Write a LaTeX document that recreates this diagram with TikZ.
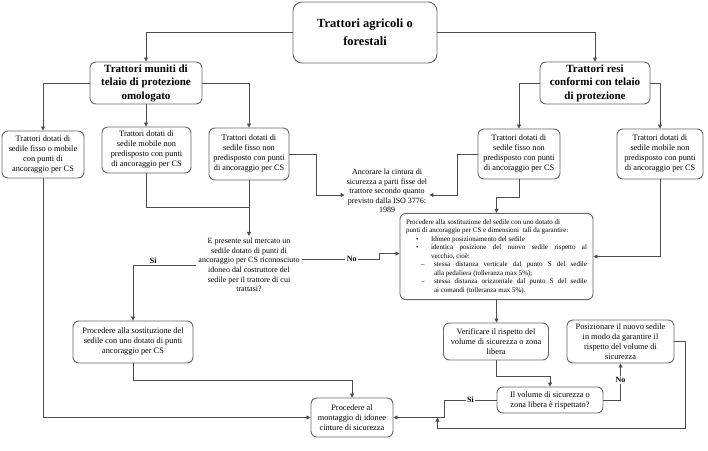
\documentclass[tikz,border=0pt]{standalone}
\usepackage{fontspec}
\setmainfont{Liberation Serif}
\usetikzlibrary{arrows.meta,calc}
\begin{document}
\begin{tikzpicture}[x=1pt,y=-1pt,
 box/.style={draw=black!60, line width=0.9pt, rounded corners=6pt, align=center, inner sep=2pt, font=\fontsize{8.3}{10}\selectfont},
 hbox/.style={box, font=\bfseries\fontsize{11}{13.5}\selectfont},
 conn/.style={draw=black!70, line width=0.8pt},
 arr/.style={conn, -{Triangle[length=4pt,width=4pt]}},
 lab/.style={font=\bfseries\fontsize{8}{9}\selectfont, fill=white, inner sep=1.5pt},
 txt/.style={align=center, inner sep=2pt, font=\fontsize{8}{9.6}\selectfont}]
\useasboundingbox (0,0) rectangle (708,450);
\fill[white] (0,0) rectangle (708,450);

\node[box, rounded corners=9pt, font=\bfseries\fontsize{12.5}{18}\selectfont, minimum width=144pt, minimum height=61pt] (top) at (365,32.5) {Trattori agricoli o\\forestali};
\node[hbox, minimum width=112pt, minimum height=42pt] (LM) at (146,83) {Trattori muniti di\\telaio di protezione\\omologato};
\node[hbox, minimum width=110pt, minimum height=42pt] (RM) at (595,83) {Trattori resi\\conformi con telaio\\di protezione};

\node[box, minimum width=82pt, minimum height=47pt] (A1) at (43,154.5) {Trattori dotati di\\sedile fisso o mobile\\con punti di\\ancoraggio per CS};
\node[box, minimum width=89pt, minimum height=46pt] (A2) at (146.5,150) {Trattori dotati di\\sedile mobile non\\predisposto con punti\\di ancoraggio per CS};
\node[box, minimum width=80pt, minimum height=52pt] (A3) at (249,154) {Trattori dotati di\\sedile fisso non\\predisposto con punti\\di ancoraggio per CS};
\node[box, minimum width=82pt, minimum height=50pt] (B1) at (519,154) {Trattori dotati di\\sedile fisso non\\predisposto con punti\\di ancoraggio per CS};
\node[box, minimum width=86pt, minimum height=50pt] (B2) at (660,154) {Trattori dotati di\\sedile mobile non\\predisposto con punti\\di ancoraggio per CS};

\node[txt] (anc) at (387,191) {Ancorare la cintura di\\sicurezza a parti fisse del\\trattore secondo quanto\\previsto dalla ISO 3776:\\1989};
\node[txt] (D) at (249,265) {E presente sul mercato un\\sedile dotato di punti di\\ancoraggio per CS riconosciuto\\idoneo dal costruttore del\\sedile per il trattore di cui\\trattasi?};

\node[box, align=justify, text width=181pt, inner sep=6pt, minimum height=85pt, font=\fontsize{7}{8.5}\selectfont] (C) at (496.5,256.5) {%
\hyphenpenalty=10000\exhyphenpenalty=10000
\noindent Procedere alla sostituzione del sedile con uno dotato di\\
punti di ancoraggio per CS e dimensioni\ \ tali da garantire:\par
\hangindent=25pt\hangafter=1\noindent\hspace*{10pt}\makebox[15pt][l]{\textbullet}Idoneo posizionamento del sedile\par
\hangindent=25pt\hangafter=1\noindent\hspace*{10pt}\makebox[15pt][l]{\textbullet}identica posizione del nuovo sedile rispetto al\linebreak vecchio, cioè:\par
\hangindent=28pt\hangafter=1\noindent\hspace*{15pt}\makebox[13pt][l]{--}stessa distanza verticale dal punto S del sedile\linebreak alla pedaliera (tolleranza max 5\%);\par
\hangindent=28pt\hangafter=1\noindent\hspace*{15pt}\makebox[13pt][l]{--}stessa distanza orizzontale dal punto S del sedile\linebreak ai comandi (tolleranza max 5\%).\par};

\node[box, minimum width=120pt, minimum height=42pt] (E) at (133,342) {Procedere alla sostituzione del\\sedile con uno dotato di punti\\ancoraggio per CS};
\node[box, minimum width=82pt, minimum height=39pt] (F) at (352,417.5) {Procedere al\\montaggio di idonee\\cinture di sicurezza};
\node[box, minimum width=105pt, minimum height=37pt] (G) at (496,341.5) {Verificare il rispetto del\\volume di sicurezza o zona\\libera};
\node[box, minimum width=106pt, minimum height=26pt] (H) at (550,400) {Il volume di sicurezza o\\zona libera è rispettato?};
\node[box, minimum width=107pt, minimum height=43pt] (I) at (620.5,341.5) {Posizionare il nuovo sedile\\in modo da garantire il\\rispetto del volume di\\sicurezza};

% connectors
\draw[arr] (top.west) -| (LM.north);
\draw[arr] (top.east) -| (RM.north);
\draw[arr] (LM.west) -| (A1.north);
\draw[arr] (LM.south) -- (LM.south |- A2.north);
\draw[arr] (LM.east) -| (A3.north);
\draw[arr] (RM.west) -| (B1.north);
\draw[arr] (RM.east) -| (B2.north);

\draw[arr] (A3.east) -- ++(27,0) |- ($(anc.west)+(0,4)$);
\draw[arr] (B1.west) -- ++(-20,0) |- ($(anc.east)+(0,4)$);

\coordinate (j1) at ($(A3.south)+(0,27)$);
\draw[conn] (A2.south) |- (j1);
\draw[arr] (A3.south) -- (D.north);

\draw[arr] (D.west) -| node[pos=0.34, above, font=\bfseries\fontsize{8}{9}\selectfont, inner sep=1pt] {Si} (E.north);
\draw[arr] ($(D.east)+(0,-6)$) -- node[lab,pos=0.64]{No} ++(78,0) |- ($(C.west)+(0,-3)$);

\draw[arr] (B1.south) -- ++(0,18) -| (C.north);
\draw[arr] (B2.south) |- (C.east);
\draw[arr] (C.south) -- (C.south |- G.north);
\draw[arr] (G.south) -- ++(0,16) -| (H.north);
\draw[arr] (H.east) -| node[lab,pos=0.77]{No} (I.south);
\draw[arr] (H.west) -- node[lab]{Si} ++(-52,0) |- (F.east);
\coordinate (mj) at ($(F.east)+(44,0)$);
\draw[arr] (I.east) -- ++(11,0) |- ($(mj)+(0,11)$) -- (mj);

\draw[arr] (A1.south) |- (F.west);
\draw[arr] (E.south) -- ++(0,17) -| (F.north);
\end{tikzpicture}
\end{document}
